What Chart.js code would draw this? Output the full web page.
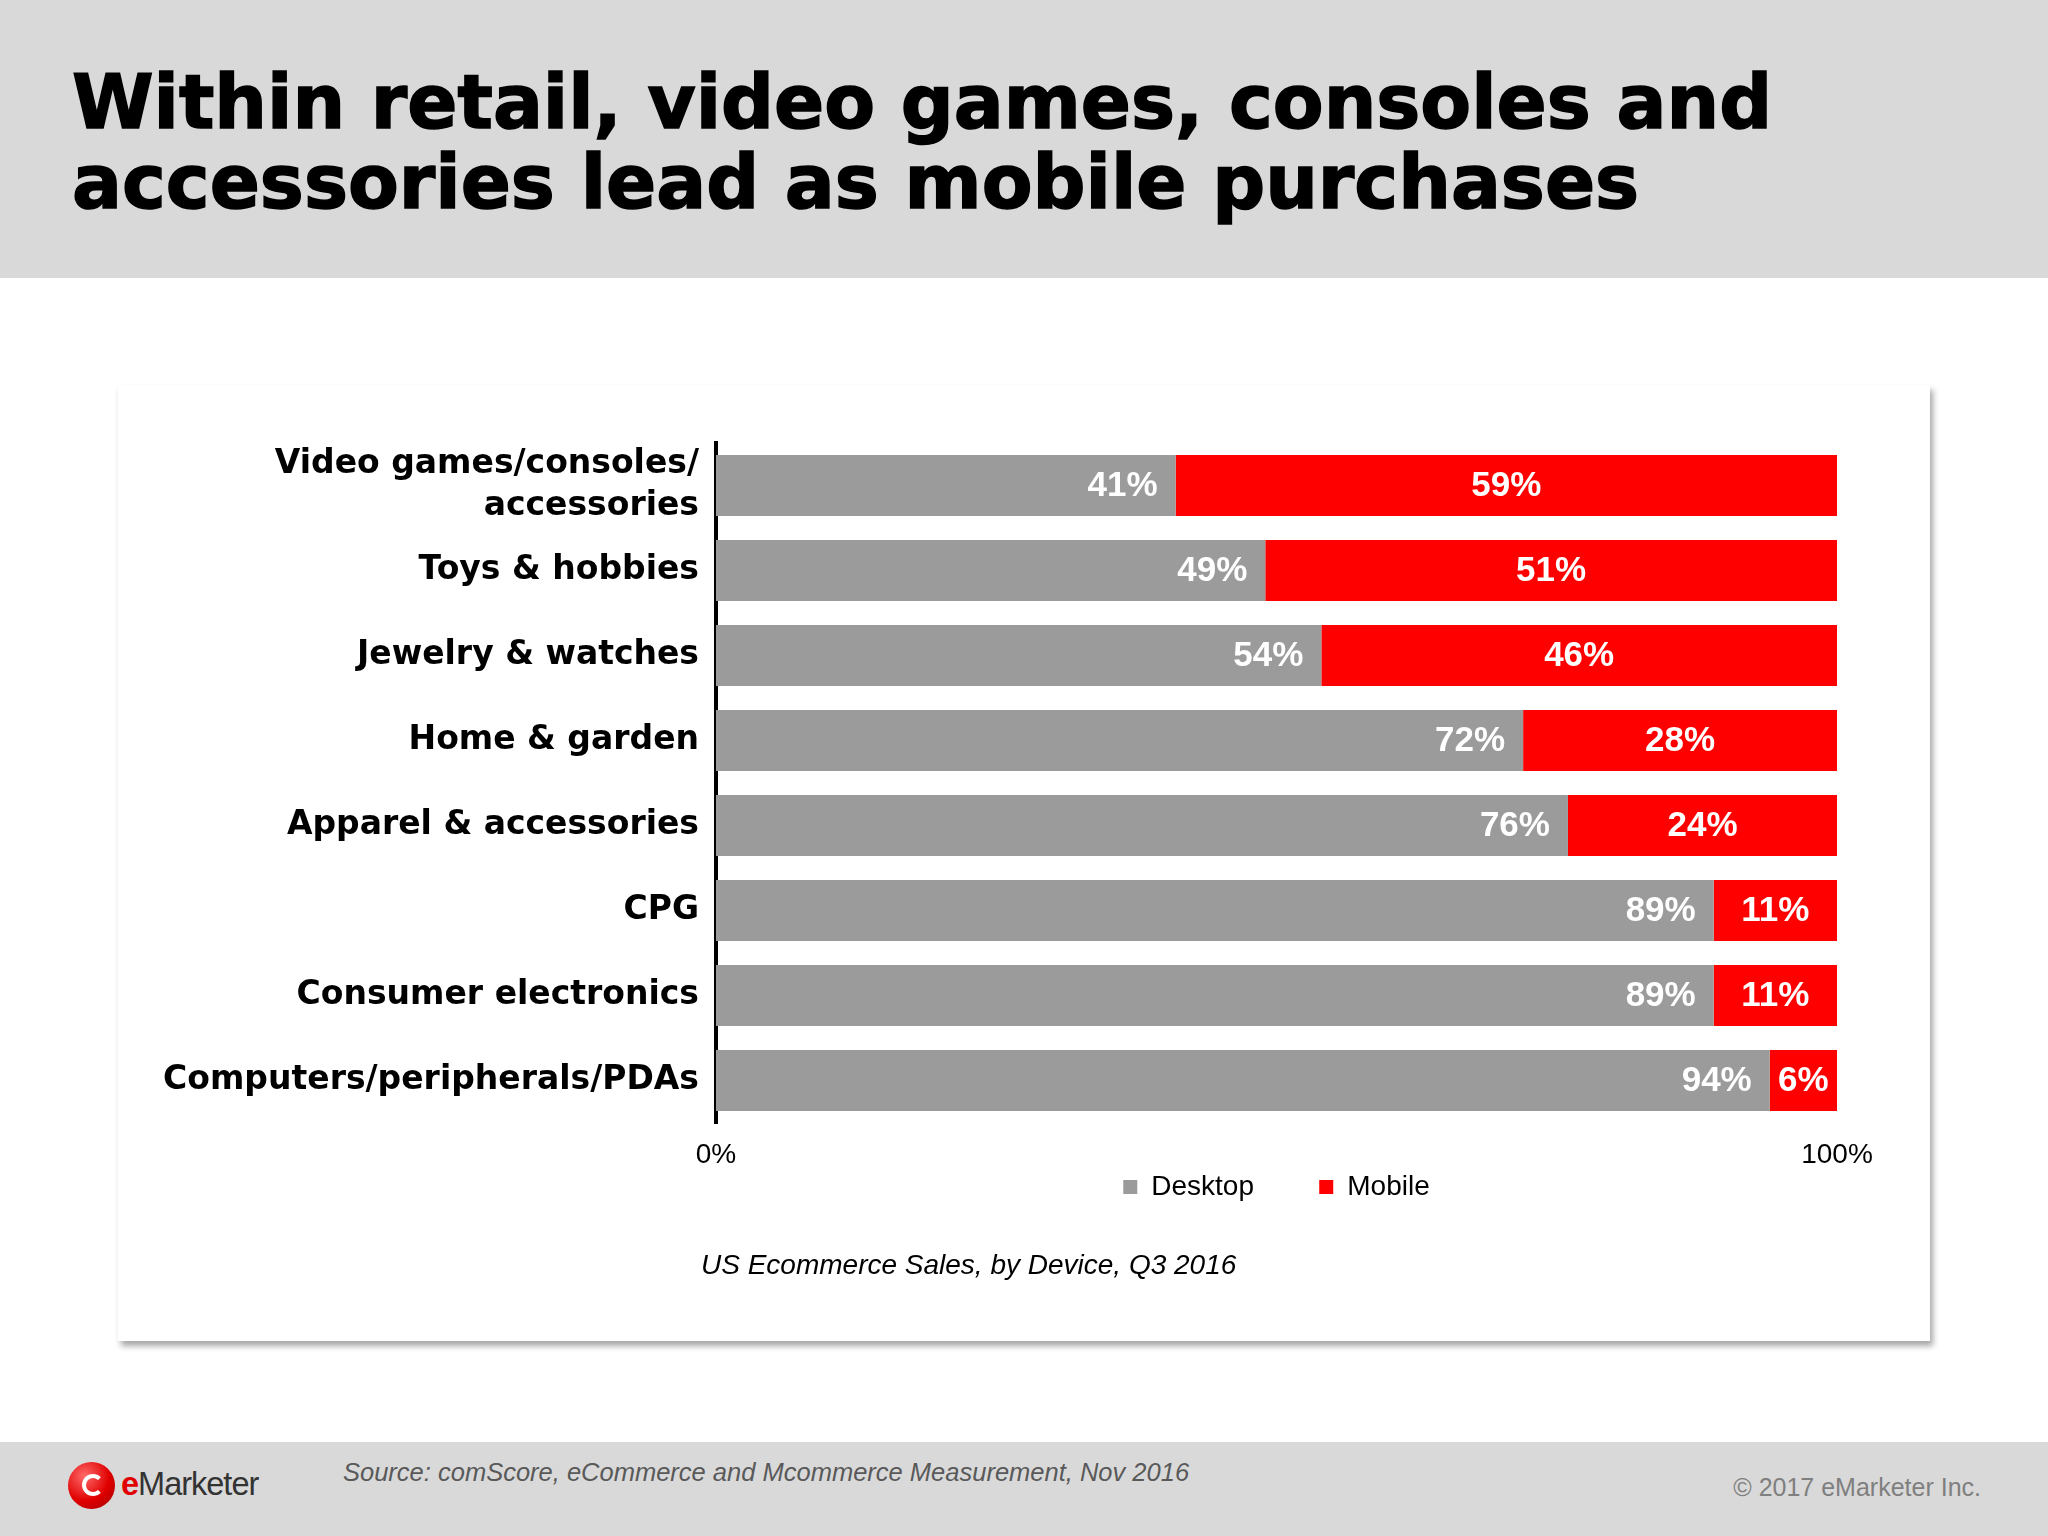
<!DOCTYPE html>
<html>
<head>
<meta charset="utf-8">
<script src="https://cdn.jsdelivr.net/npm/chart.js@4.4.1/dist/chart.umd.min.js"></script>
<style>
  body { margin: 0; width: 2048px; height: 1536px; background: #fff; position: relative; overflow: hidden; font-family: "Liberation Sans", Arial, sans-serif; }
  #header { position: absolute; left: 0; top: 0; width: 2048px; height: 278px; background: #d9d9d9; }
  #title { position: absolute; left: 72px; top: 62px; font-family: "DejaVu Sans", sans-serif; font-weight: bold; font-size: 74px; line-height: 80px; color: #000; white-space: nowrap; -webkit-text-stroke: 1.5px #000; }
  #card { position: absolute; left: 118px; top: 385px; width: 1812px; height: 956px; background: #fff; box-shadow: 3px 5px 6px rgba(0,0,0,0.35); }
  #card canvas { position: absolute; left: 0; top: 0; }
  #caption { position: absolute; left: 701px; top: 1249px; font-style: italic; font-size: 28px; color: #000; white-space: nowrap; }
  #footer { position: absolute; left: 0; top: 1442px; width: 2048px; height: 94px; background: #d9d9d9; }
  #source { position: absolute; left: 343px; top: 1458px; font-style: italic; font-size: 25.5px; color: #595959; white-space: nowrap; }
  #copy { position: absolute; right: 67px; top: 1473px; font-size: 25px; color: #7f7f7f; white-space: nowrap; }
  #logo { position: absolute; left: 68px; top: 1462px; width: 47px; height: 47px; border-radius: 50%; background: radial-gradient(circle at 35% 30%, #ff6a6a, #e00000 55%, #a00000); }
  #logo::after { content: ""; position: absolute; left: 14px; top: 12px; width: 14px; height: 14px; border: 4px solid #fff; border-radius: 50%; border-right-color: transparent; }
  #logotext { position: absolute; left: 121px; top: 1466px; font-family: "Liberation Sans Narrow", "Liberation Sans", sans-serif; font-size: 32.5px; color: #333; letter-spacing: -1px; white-space: nowrap; }
  #logotext span { color: #e00000; font-weight: bold; }
</style>
</head>
<body>
<div id="header"></div>
<div id="title">Within retail, video games, consoles and<br>accessories lead as mobile purchases</div>
<div id="card"><canvas id="chart" width="1812" height="956"></canvas></div>
<div id="caption">US Ecommerce Sales, by Device, Q3 2016</div>
<div id="footer"></div>
<div id="logo"></div>
<div id="logotext"><span>e</span>Marketer</div>
<div id="source">Source: comScore, eCommerce and Mcommerce Measurement, Nov 2016</div>
<div id="copy">© 2017 eMarketer Inc.</div>

<script>
// datos del gráfico
const categorias = [
	['Video games/consoles/', 'accessories'],
	'Toys & hobbies',
	'Jewelry & watches',
	'Home & garden',
	'Apparel & accessories',
	'CPG',
	'Consumer electronics',
	'Computers/peripherals/PDAs'
];
const desktop = [41, 49, 54, 72, 76, 89, 89, 94];
const mobile = [59, 51, 46, 28, 24, 11, 11, 6];
const ticksX = [0, 100];

// etiquetas de valor dentro de las barras
const etiquetasBarras = {
	id: 'etiquetasBarras',
	afterDatasetsDraw(chart) {
		const ctx = chart.ctx;
		ctx.save();
		ctx.fillStyle = '#fff';
		ctx.font = 'bold 35px "Liberation Sans", Arial, sans-serif';
		ctx.textBaseline = 'middle';
		chart.data.datasets.forEach(function (ds, i) {
			const meta = chart.getDatasetMeta(i);
			meta.data.forEach(function (bar, j) {
				const txt = ds.data[j] + '%';
				if (i === 0) {
					ctx.textAlign = 'right';
					ctx.fillText(txt, bar.x - 18, bar.y + 1);
				} else {
					ctx.textAlign = 'center';
					ctx.fillText(txt, (bar.x + bar.base) / 2, bar.y + 1);
				}
			});
		});
		ctx.restore();
	}
};

const ctx = document.getElementById('chart').getContext('2d');
new Chart(ctx, {
	type: 'bar',
	data: {
		labels: categorias,
		datasets: [
			{ label: 'Desktop        ', data: desktop, backgroundColor: '#9b9b9b' },
			{ label: 'Mobile', data: mobile, backgroundColor: '#ff0000' }
		]
	},
	options: {
		indexAxis: 'y',
		responsive: false,
		animation: false,
		layout: { padding: { top: 58, right: 93, bottom: 130, left: 0 } },
		datasets: { bar: { categoryPercentage: 1, barPercentage: 0.72, borderWidth: 0 } },
		scales: {
			x: {
				stacked: true,
				min: ticksX[0],
				max: ticksX[ticksX.length - 1],
				grid: { display: false, drawTicks: false },
				border: { display: false },
				afterBuildTicks: function (scale) {
					scale.ticks = ticksX.map(v => ({ value: v }));
				},
				afterFit: function (scale) { scale.height = 47; },
				ticks: {
					padding: 18,
					color: '#000',
					font: { family: '"Liberation Sans", Arial, sans-serif', size: 28, lineHeight: 1.0 },
					callback: v => v + '%'
				}
			},
			y: {
				stacked: true,
				grid: { display: false, drawTicks: false },
				border: { display: true, color: '#000', width: 4 },
				afterFit: function (scale) { scale.width = 598; },
				ticks: {
					autoSkip: false,
					padding: 17,
					color: '#000',
					font: { family: '"DejaVu Sans", sans-serif', size: 33, weight: 'bold', lineHeight: 1.25 }
				}
			}
		},
		plugins: {
			legend: {
				position: 'bottom',
				fullSize: false,
				labels: {
					boxWidth: 14,
					boxHeight: 14,
					padding: 3,
					color: '#000',
					font: { family: '"Liberation Sans", Arial, sans-serif', size: 28 }
				}
			},
			tooltip: { enabled: false }
		}
	},
	plugins: [etiquetasBarras]
});
</script>
</body>
</html>
